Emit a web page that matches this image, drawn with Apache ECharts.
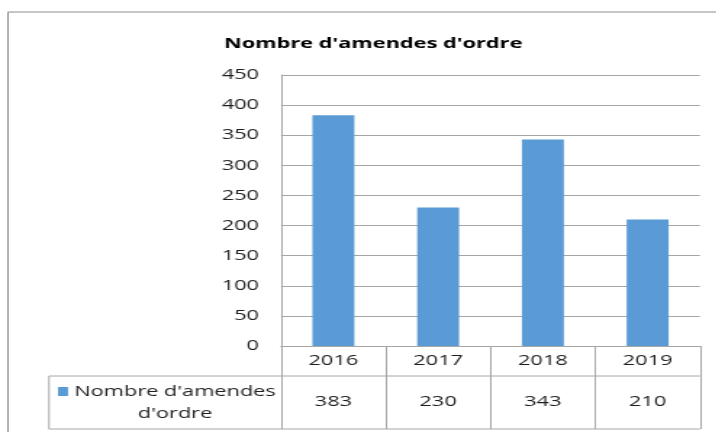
<!DOCTYPE html>
<html>
<head>
<meta charset="utf-8">
<script src="https://cdn.jsdelivr.net/npm/echarts@6/dist/echarts.min.js"></script>
<style>
  html, body { margin: 0; padding: 0; background: #fff; overflow: hidden; }
  #wrap { width: 717px; height: 432px; overflow: hidden; position: relative; }
  #chart { height: 432px; transform-origin: 0 0; position: absolute; left: 0; top: 0; }
</style>
</head>
<body>
<div id="wrap"><div id="chart"></div></div>
<script>
// Chart data
const titleText = "Nombre d'amendes d'ordre";
const seriesName = "Nombre d'amendes d'ordre";
const years = ['2016', '2017', '2018', '2019'];
const amendes = [383, 230, 343, 210];
const yTicks = [0, 50, 100, 150, 200, 250, 300, 350, 400, 450];

// Horizontal stretch applied to the drawing (wide glyph look)
const SX = 1.45;
const W = 717 / SX;
const el = document.getElementById('chart');
el.style.width = W + 'px';
el.style.transform = 'scaleX(' + SX + ')';

const FONT = '"Open Sans", "Noto Sans", sans-serif';
const GRID = '#a6a6a6';
const TXT = '#1f1f1f';

// layout (in page pixels, converted to drawing units)
const plotL = 281 / SX, plotR = 700 / SX;
const plotT = 75, plotB = 346;
const row1B = 376, row2B = 429;
const legL = 49 / SX;

const chart = echarts.init(el, null, { renderer: 'canvas', width: W, height: 432 });

chart.setOption({
  animation: false,
  backgroundColor: '#fff',
  title: {
    text: titleText,
    left: 366 / SX,
    top: 31,
    textAlign: 'center',
    textStyle: { fontFamily: FONT, fontWeight: 'bold', fontSize: 15, color: '#000' }
  },
  grid: { left: plotL, right: W - plotR, top: plotT, bottom: 432 - plotB, containLabel: false },
  xAxis: [{
    type: 'category',
    data: years,
    position: 'bottom',
    axisLine: { show: true, lineStyle: { color: GRID, width: 1 } },
    axisTick: { show: true, alignWithLabel: false, inside: false, length: row2B - plotB, lineStyle: { color: GRID, width: 1 } },
    axisLabel: { margin: 15, verticalAlign: 'middle', fontFamily: FONT, fontSize: 15, color: TXT }
  }, {
    type: 'category',
    data: years,
    position: 'bottom',
    axisLine: { show: false },
    axisTick: { show: false },
    axisLabel: {
      margin: 56, verticalAlign: 'middle', fontFamily: FONT, fontSize: 15, color: TXT,
      formatter: (v, i) => String(amendes[i])
    }
  }],
  yAxis: {
    type: 'value',
    min: yTicks[0],
    max: yTicks[yTicks.length - 1],
    interval: 50,
    axisLine: { show: true, lineStyle: { color: GRID, width: 1 } },
    axisTick: { show: false },
    splitLine: { show: true, lineStyle: { color: GRID, width: 1 } },
    axisLabel: { margin: 22 / SX, fontFamily: FONT, fontSize: 15, color: TXT }
  },
  series: [{
    name: seriesName,
    type: 'bar',
    data: amendes,
    barWidth: '40%',
    itemStyle: { color: '#5b9bd5' }
  }],
  graphic: [
    // outer chart frame
    { type: 'rect', shape: { x: 8 / SX, y: 12, width: W + 20, height: 500 },
      style: { fill: 'none', stroke: '#8c8c8c', lineWidth: 1 }, silent: true, z: 0 },
    // data table rules
    { type: 'line', shape: { x1: legL, y1: row1B, x2: plotR, y2: row1B }, style: { stroke: GRID, lineWidth: 1 }, z: 5 },
    { type: 'line', shape: { x1: legL, y1: row2B, x2: plotR, y2: row2B }, style: { stroke: GRID, lineWidth: 1 }, z: 5 },
    { type: 'line', shape: { x1: legL, y1: row1B, x2: legL, y2: row2B }, style: { stroke: GRID, lineWidth: 1 }, z: 5 },
    // legend key in table
    { type: 'rect', shape: { x: 58 / SX, y: 387, width: 10 / SX, height: 9 }, style: { fill: '#5b9bd5' }, z: 5 },
    { type: 'text', x: 175 / SX, y: 403,
      style: { text: "Nombre d'amendes\nd'ordre", fontFamily: FONT, fontSize: 15, fill: TXT,
               align: 'center', verticalAlign: 'middle', lineHeight: 22 }, z: 5 }
  ]
});
</script>
</body>
</html>
